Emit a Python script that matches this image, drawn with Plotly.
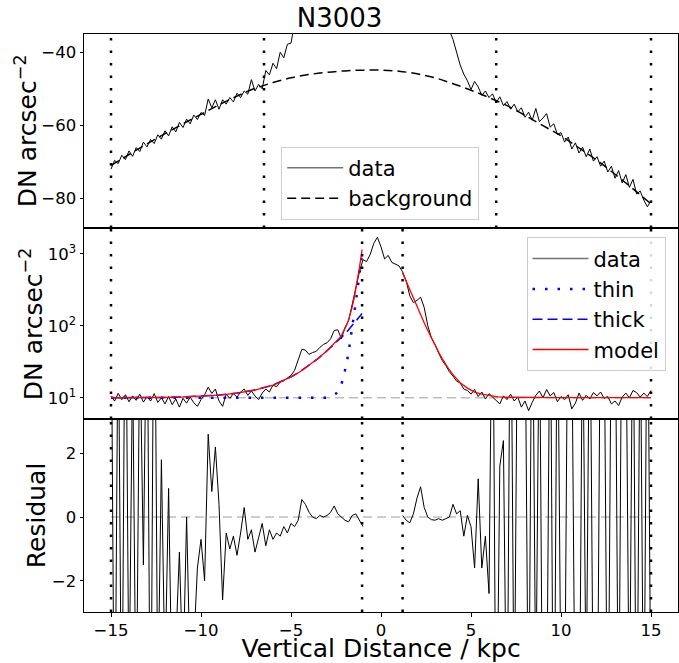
import numpy as np
import plotly.graph_objects as go
from plotly.subplots import make_subplots

# ---------------- data ----------------
X = [round(v, 1) for v in np.linspace(-15, 15, 151)]

top_data = [
    -72.0, -69.6, -70.5, -68.2, -69.4, -67.0, -68.5, -66.1, -67.2, -64.6,
    -65.9, -63.9, -65.0, -62.6, -63.8, -61.5, -62.9, -60.4, -61.8, -59.2,
    -60.6, -58.3, -59.6, -57.2, -58.4, -56.5, -57.3, -52.8, -55.2, -53.0,
    -55.6, -53.0, -54.2, -52.4, -53.6, -51.2, -52.4, -50.6, -51.5, -47.5,
    -50.6, -48.8, -50.0, -45.0, -46.2, -43.0, -44.5, -40.0, -41.5, -37.8,
    -37.5, -32.0, -22.0, -9.0, -10.0, -16.0, -13.0, -11.6, -5.5, -0.5,
    2.6, 10.6, 30.6, 32.7, 10.8, 39.9, 63.0, 145.0, 275.0, 505.0,
    775.0, 725.0, 925.0, 1345.0, 1645.0, 1195.0, 795.0, 895.0, 705.0, 665.0,
    625.0, 505.0, 365.0, 204.0, 154.0, 169.0, 194.0, 124.0, 44.0, 11.0,
    -2.0, -15.5, -25.0, -30.0, -34.0, -36.5, -40.0, -43.5, -46.0, -47.8,
    -50.2, -48.0, -49.5, -51.8, -50.6, -52.4, -51.4, -53.8, -52.2, -54.6,
    -53.5, -55.6, -54.2, -56.3, -55.2, -57.8, -56.4, -58.6, -55.4, -59.0,
    -58.0, -56.8, -60.5, -59.6, -62.5, -62.0, -64.6, -63.2, -66.5, -64.8,
    -67.6, -66.0, -68.6, -66.5, -69.8, -68.6, -71.2, -69.8, -72.8, -71.2,
    -74.5, -72.4, -75.8, -73.5, -77.0, -74.8, -78.8, -78.0, -80.5, -82.3,
    -80.6,
]

bg_x = list(range(-15, 16))
background = [
    -71.0, -68.0, -65.1, -62.3, -59.6, -57.0, -54.4, -52.0, -49.9, -48.3,
    -47.0, -46.1, -45.5, -45.1, -44.9, -44.9, -45.2, -45.9, -47.0, -48.6,
    -50.4, -52.4, -54.6, -57.3, -60.1, -62.9, -66.2, -69.6, -73.4, -77.4,
    -81.5,
]

mid_data = [
    10.5, 9.0, 11.5, 9.4, 11.0, 8.8, 10.6, 9.2, 11.2, 8.7,
    10.3, 9.0, 11.4, 8.6, 10.0, 8.2, 10.4, 8.0, 9.6, 7.4,
    9.8, 8.4, 10.2, 8.5, 7.6, 9.4, 11.0, 14.0, 11.5, 13.2,
    9.0, 7.6, 11.2, 9.8, 11.4, 10.2, 12.0, 13.2, 10.8, 12.4,
    10.6, 9.4, 11.6, 13.2, 12.0, 15.0, 14.2, 16.5, 17.2, 19.0,
    20.5, 24.0, 34.0, 47.0, 46.0, 40.0, 42.5, 44.0, 50.0, 55.0,
    58.0, 66.0, 86.0, 88.0, 66.0, 95.0, 118.0, 200.0, 330.0, 560.0,
    830.0, 780.0, 980.0, 1400.0, 1700.0, 1250.0, 850.0, 950.0, 760.0, 720.0,
    680.0, 560.0, 420.0, 260.0, 210.0, 225.0, 250.0, 180.0, 100.0, 68.0,
    55.0, 42.0, 33.0, 28.0, 23.0, 20.0, 17.0, 16.0, 13.2, 12.6,
    11.2, 13.0, 10.4, 12.0, 9.6, 11.4, 10.2, 9.0, 8.2, 10.6,
    9.4, 11.2, 9.0, 10.2, 7.4, 9.0, 6.6, 8.6, 10.8, 12.4,
    10.0, 13.0, 10.6, 11.8, 8.8, 10.4, 9.4, 11.0, 7.0, 8.4,
    11.6, 9.2, 10.8, 9.6, 11.8, 10.6, 12.0, 9.8, 10.4, 8.2,
    9.0, 7.8, 10.2, 11.6, 10.0, 12.6, 11.8, 10.2, 11.6, 10.4,
    12.6,
]

model_left_x = [-15, -14, -13, -12, -11, -10, -9, -8, -7, -6, -5, -4.5, -4, -3.5, -3,
                -2.8, -2.6, -2.5, -2.4, -2.3, -2.2, -2.1, -2.0, -1.9, -1.8, -1.7, -1.6,
                -1.5, -1.4, -1.3, -1.2, -1.1, -1.05]
thick = [10.0, 10.0, 10.05, 10.1, 10.25, 10.5, 10.9, 11.6, 12.8, 15.0, 19.5, 23, 28, 35, 45,
         50, 55, 58, 61, 64.5, 68, 72.5, 77, 82, 88, 94, 101, 108, 116, 125, 134, 143, 148]
thin = [10.0] * 15 + [10.35, 10.87, 11.4, 12.2, 13.4, 15.4, 18.5, 23.3, 31, 43, 62, 92,
                      139, 214, 330, 516, 806, 1010]
model_left = [10.0, 10.0, 10.05, 10.1, 10.25, 10.5, 10.9, 11.6, 12.8, 15.0, 19.5, 23, 28, 35, 45,
              50.4, 55.9, 59.4, 63.2, 67.9, 73.4, 81, 90.3, 103, 121, 146, 183,
              237, 320, 445, 640, 939, 1148]
model_right_x = [1.2, 1.4, 1.6, 1.8, 2.0, 2.2, 2.4, 2.6, 2.8, 3.0, 3.2, 3.4, 3.6, 3.8, 4.0,
                 4.4, 4.8, 5.2, 5.6, 6.0, 6.5, 7, 8, 9, 10, 11, 12, 13, 14, 15]
model_right = [540, 411, 314, 240, 184, 142, 110, 86, 67, 53.5, 43, 35, 29, 24.3, 20.9,
               16.2, 13.6, 12.0, 11.2, 10.7, 10.3, 10.15, 10.03, 10.0, 10.0, 10.0, 10.0, 10.0,
               10.0, 10.0]

residual = [
    8, -9, 7, -8, 9, -6, 5, -7, 6, -1.5,
    8, -9, 10, -6, 1.8, -5, 0.9, -6, -4, -1.1,
    -5, 0.0, -5, -4, -1.6, -0.7, -2.0, 2.6, 0.8, 2.2,
    0.4, -2.6, -0.5, -1.0, -0.6, -1.2, -0.5, 0.3, -0.7, -0.4,
    -1.1, -0.6, -0.2, -0.9, -0.4, -0.7, -0.5, -0.6, -0.3, -0.5,
    -0.2, -0.3, -0.1, 0.55, 0.4, 0.15, 0.0, -0.05, 0.05, 0.0,
    0.05, 0.15, 0.35, 0.1, 0.0, -0.1, -0.15, 0.05, 0.1, -0.1,
    -0.3,
    None, None, None, None, None, None, None, None, None, None,
    0.05, -0.1, -0.18, 0.1, 0.6, 0.95, 0.3, 0.0, -0.08, -0.1,
    -0.05, -0.1, -0.05, 0.0, 0.4, 0.1, 0.2, -0.6, 0.05, -0.3,
    -1.6, 1.2, -1.6, -0.6, -2.4,
    9, -9, 1.6, 2.4, -8, 9, -7, 8, 6, 7,
    -8, 9, -6, 7, -9, -7, 8, -10, 8, -6,
    -7, 9, 6, -8, -9, 7, -6, 8, -7, -9,
    8, 6, -9, 7, 8, -8, 9, 7, -7, 8,
    -9, 7, -8, 9, -7,
]

top_vlines = [-15, -6.5, 6.4, 15]
fit_vlines = [-15, -1.05, 1.2, 15]
sky_level = 10
x_ticks = [-15, -10, -5, 0, 5, 10, 15]

assert len(top_data) == len(X) and len(mid_data) == len(X) and len(residual) == len(X)
assert len(thick) == len(model_left_x) == len(thin) == len(model_left)
assert len(model_right) == len(model_right_x)

# ---------------- figure ----------------
FONT = "DejaVu Sans"
fig = make_subplots(rows=3, cols=1, shared_xaxes=True, vertical_spacing=0)

data_col = "black"
legend_data_col = "rgba(0,0,0,0.55)"

# --- top panel
fig.add_trace(go.Scatter(x=[None], y=[None], mode="lines", name="data",
                         line=dict(color=legend_data_col, width=1.5),
                         legend="legend", legendgroup="a"), row=1, col=1)
fig.add_trace(go.Scatter(x=X, y=top_data, mode="lines", showlegend=False,
                         line=dict(color=data_col, width=1)), row=1, col=1)
fig.add_trace(go.Scatter(x=bg_x, y=background, mode="lines", name="background",
                         line=dict(color="black", width=1.5, dash="9px,5px", shape="spline"),
                         legend="legend", legendgroup="b"), row=1, col=1)

# --- middle panel
fig.add_trace(go.Scatter(x=[-15, 15], y=[sky_level, sky_level], mode="lines", showlegend=False,
                         line=dict(color="#bdbdbd", width=1.5, dash="9px,5px")), row=2, col=1)
fig.add_trace(go.Scatter(x=[None], y=[None], mode="lines", name="data",
                         line=dict(color=legend_data_col, width=1.5),
                         legend="legend2", legendgroup="c"), row=2, col=1)
fig.add_trace(go.Scatter(x=X, y=mid_data, mode="lines", showlegend=False,
                         line=dict(color=data_col, width=1)), row=2, col=1)
fig.add_trace(go.Scatter(x=model_left_x, y=thin, mode="lines", name="thin",
                         line=dict(color="blue", width=2.5, dash="2.5px,10px"),
                         legend="legend2", legendgroup="d"), row=2, col=1)
fig.add_trace(go.Scatter(x=model_left_x, y=thick, mode="lines", name="thick",
                         line=dict(color="blue", width=1.5, dash="10px,5px"),
                         legend="legend2", legendgroup="e"), row=2, col=1)
fig.add_trace(go.Scatter(x=model_left_x + [None] + model_right_x,
                         y=model_left + [None] + model_right, mode="lines", name="model",
                         line=dict(color="red", width=1.3),
                         legend="legend2", legendgroup="f"), row=2, col=1)

# --- residual panel
fig.add_trace(go.Scatter(x=[-15, 15], y=[0, 0], mode="lines", showlegend=False,
                         line=dict(color="#bdbdbd", width=1.5, dash="9px,5px")), row=3, col=1)
fig.add_trace(go.Scatter(x=X, y=residual, mode="lines", showlegend=False,
                         line=dict(color="black", width=1)), row=3, col=1)

# vertical dotted lines
shapes = []
for xv in top_vlines:
    shapes.append(dict(type="line", xref="x", yref="y domain", x0=xv, x1=xv, y0=0, y1=1,
                       line=dict(color="black", width=2.5, dash="2.5px,10px")))
for yr in ["y2 domain", "y3 domain"]:
    for xv in fit_vlines:
        shapes.append(dict(type="line", xref="x", yref=yr, x0=xv, x1=xv, y0=0, y1=1,
                           line=dict(color="black", width=2.5, dash="2.5px,10px")))

# y-axis titles as rotated annotations (placed like matplotlib's per-axis labels)
annotations = [
    dict(text="DN arcsec<sup>−2</sup>", xref="paper", yref="paper", x=-0.0976, y=0.832,
         xanchor="center", yanchor="middle", textangle=-90, showarrow=False,
         font=dict(family=FONT, size=25, color="black")),
    dict(text="DN arcsec<sup>−2</sup>", xref="paper", yref="paper", x=-0.0881, y=0.499,
         xanchor="center", yanchor="middle", textangle=-90, showarrow=False,
         font=dict(family=FONT, size=25, color="black")),
    dict(text="Residual", xref="paper", yref="paper", x=-0.0796, y=0.167,
         xanchor="center", yanchor="middle", textangle=-90, showarrow=False,
         font=dict(family=FONT, size=25, color="black")),
]

axis_common = dict(showline=True, linecolor="black", linewidth=1, mirror=True,
                   showgrid=False, zeroline=False, automargin=False)

leg_common = dict(bgcolor="rgba(255,255,255,0.85)", bordercolor="#cccccc", borderwidth=1,
                  font=dict(family=FONT, size=21, color="black"), traceorder="grouped",
                  tracegroupgap=0, itemwidth=56, xanchor="left", yanchor="top")

fig.update_layout(
    width=679, height=663,
    margin=dict(l=84, r=1, t=34, b=51),
    plot_bgcolor="white", paper_bgcolor="white",
    font=dict(family=FONT, size=16, color="black"),
    title=dict(text="N3003", x=0.5, xref="container", xanchor="center",
               y=1 - 18 / 663, yref="container", yanchor="middle",
               font=dict(family=FONT, size=26, color="black")),
    shapes=shapes,
    annotations=annotations,
    legend=dict(x=0.332, y=0.805, **leg_common),
    legend2=dict(x=0.745, y=0.648, **leg_common),
)

fig.update_xaxes(range=[-16.5, 16.5], **axis_common)
fig.update_xaxes(showticklabels=False, ticks="", row=1, col=1)
fig.update_xaxes(showticklabels=False, ticks="", row=2, col=1)
fig.update_xaxes(tickvals=x_ticks, ticks="outside", ticklen=3.5, tickwidth=1, tickcolor="black",
                 showticklabels=True, tickfont=dict(size=16.5),
                 title=dict(text="Vertical Distance / kpc", font=dict(size=25), standoff=5),
                 row=3, col=1)

ycommon = dict(ticks="outside", ticklen=3.5, tickwidth=1, tickcolor="black",
               tickfont=dict(size=16.5), **axis_common)
fig.update_yaxes(domain=[0.6645, 1.0], range=[-88.1, -35.0], tickvals=[-80, -60, -40],
                 row=1, col=1, **ycommon)
fig.update_yaxes(domain=[0.334, 0.6645], type="log", range=[0.705, 3.36],
                 tickvals=[10, 100, 1000],
                 ticktext=["10<sup>1</sup>", "10<sup>2</sup>", "10<sup>3</sup>"],
                 row=2, col=1, **ycommon)
fig.update_yaxes(domain=[0.0, 0.334], range=[-2.98, 3.08], tickvals=[-2, 0, 2],
                 row=3, col=1, **ycommon)

fig.write_html("out.html", config={"displayModeBar": False},
               post_script="document.body.style.margin='0';")
